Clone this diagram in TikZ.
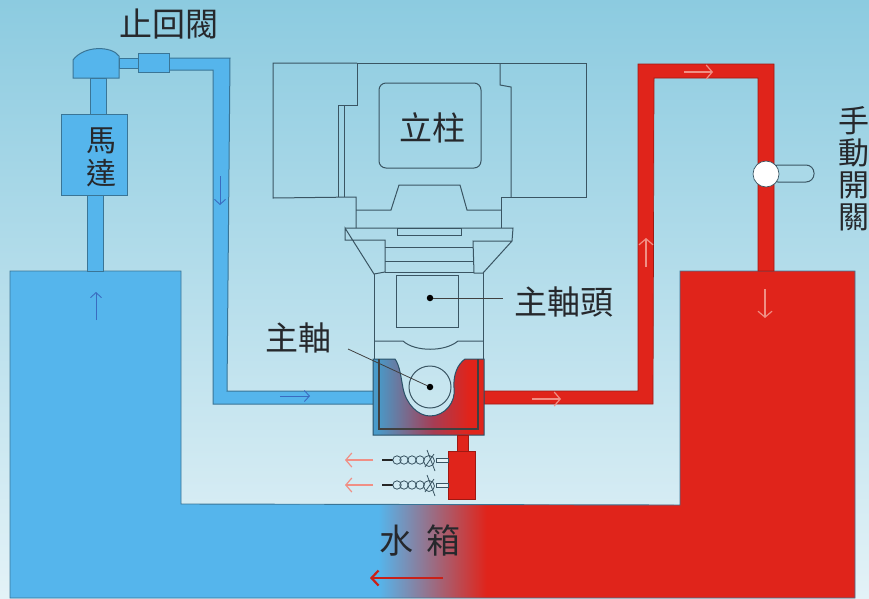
\documentclass[tikz,border=0pt]{standalone}
\usepackage{fontspec}
\setmainfont{Noto Sans CJK TC}
\usetikzlibrary{arrows.meta, positioning}
\definecolor{skytop}{HTML}{8CCBE0}
\definecolor{skylow}{HTML}{E3F2F7}
\definecolor{coldblue}{HTML}{55B5EC}
\definecolor{hotred}{HTML}{E0241B}
\definecolor{pipeline}{HTML}{3A7596}
\definecolor{machline}{HTML}{3A5563}
\definecolor{textdark}{HTML}{26282C}
\definecolor{palered}{HTML}{F08F85}
\definecolor{flowblue}{HTML}{3A6CC0}
\pgfdeclarehorizontalshading{tankfade}{100bp}{color(0bp)=(coldblue); color(46.8bp)=(coldblue); color(53.2bp)=(hotred); color(100bp)=(hotred)}
\pgfdeclarehorizontalshading{housingfade}{100bp}{color(0bp)=(coldblue); color(27bp)=(coldblue!85!black); color(52bp)=(hotred!65!flowblue); color(68bp)=(hotred); color(100bp)=(hotred)}
\tikzset{
  coldpipe/.style={fill=coldblue, draw=pipeline, line width=1pt},
  hotpipe/.style={fill=hotred, draw=hotred!70!black, line width=0.7pt},
  machine/.style={draw=machline, line width=1pt},
  paleflow/.style={draw=palered, line width=1.2pt, -{Straight Barb[length=6pt,width=14pt]}},
  blueflow/.style={draw=flowblue, line width=0.9pt, -{Straight Barb[length=5pt,width=11pt]}},
  label/.style={text=textdark, inner sep=0pt, font=\fontsize{33}{34}\selectfont},
  stacked/.style={label, align=center},
  leader/.style={draw=black!75, line width=0.8pt},
  pin/.style={circle, fill=black, inner sep=0pt, minimum size=6.5pt}
}
\begin{document}
\begin{tikzpicture}[x=1pt, y=-1pt]
  \useasboundingbox (0,0) rectangle (869,598);
  \shade[top color=skytop, bottom color=skylow] (0,0) rectangle (869,598);

  % tank
  \path[shading=tankfade, draw=pipeline, line width=0.9pt]
    (10,271) -- (181,271) -- (181,504) -- (680,505) -- (680,271) -- (855,271) -- (855,598) -- (10,598) -- cycle;

  % cold side
  \draw[coldpipe] (87,195) rectangle (103,271);
  \draw[coldpipe] (90,78) rectangle (106,114);
  \draw[coldpipe] (119,58) rectangle (138,68);
  \draw[coldpipe] (169,58) -- (230,58) -- (227,391) -- (374,391) -- (374,404) -- (213,404) -- (213,70) -- (169,70) -- cycle;
  \draw[coldpipe] (73,78) -- (73,60) .. controls (84,45) and (112,46) .. (119,56) -- (119,78) -- cycle;
  \draw[coldpipe] (138,53) rectangle (169,72);
  \node[coldpipe, minimum width=66pt, minimum height=81pt, inner sep=0pt] (motor) at (94.7,154.5) {};

  % hot side
  \draw[hotpipe] (484,391) -- (638,391) -- (638,64) -- (774,64) -- (774,271) -- (758,271) -- (758,78) -- (654,78) -- (653,404) -- (484,404) -- cycle;
  \draw[machine, fill=skytop!65!skylow, rounded corners=8pt] (770,165) -- (814,165) -- (814,182) -- (770,182) -- cycle;
  \node[circle, fill=white, draw=machline, line width=0.7pt, minimum size=26pt, inner sep=0pt] (valve) at (766,174) {};

  % column
  \draw[machine] (357,63) -- (273,63) -- (273,198) -- (356,197) -- (356,228);
  \draw[machine] (357,63) -- (357,105) -- (338,105) -- (338,197);
  \draw[machine] (344,105) -- (344,197);
  \draw[machine] (357,63) -- (586,63) -- (586,197) -- (501,197) -- (501,228);
  \draw[machine] (500,63) -- (500,85) -- (511,87) -- (511,197);
  \draw[machine, rounded corners=7pt] (379,83) rectangle (481,168);
  \draw[machine] (356,210) -- (391,210) -- (399,185) -- (460,185) -- (467,210) -- (501,210);

  % head
  \draw[machine] (345,228) -- (513,228) -- (512,241) -- (473,241) -- (474,273) -- (483,273) -- (512,241);
  \draw[machine] (345,228) -- (345,240) -- (385,240) -- (385,272) -- (374,274) -- cycle;
  \draw[machine] (397,228) rectangle (461,235);
  \draw[machine] (385,247) -- (473,247);
  \draw[machine] (385,261) -- (473,261);
  \draw[machine] (385,272) -- (474,272);
  \draw[machine] (374,274) -- (374,360);
  \draw[machine] (483,273) -- (483,360);
  \draw[machine] (374,341) -- (403,341) .. controls (415,352) and (445,352) .. (458,341) -- (483,341);
  \draw[machine] (396,275) rectangle (458,327);

  % spindle housing
  \path[shading=housingfade, draw=pipeline!70!black, line width=1pt]
    (373,359) -- (395,359) .. controls (400,366) and (401,378) .. (403,388)
    .. controls (406,404) and (418,416) .. (430,416)
    .. controls (445,416) and (456,402) .. (454,388)
    .. controls (453,374) and (458,364) .. (465,359) -- (484,359) -- (484,435) -- (373,435) -- cycle;
  \draw[black!75, line width=1.2pt] (379,359) -- (379,429) -- (478,429) -- (478,359);
  \draw[machine, fill=skytop!25!skylow, fill opacity=0.35] (430,387) circle (21);

  % pump
  \draw[hotpipe] (457,435) rectangle (468,451);
  \node[hotpipe, minimum width=27pt, minimum height=48pt, inner sep=0pt] (pump) at (461.5,475) {};
  \foreach \rowy in {460,485}{
    \draw[black!85, line width=2.2pt] (382,\rowy) -- (393,\rowy);
    \foreach \coilx in {397,404,412,420}
      \draw[machine, line width=0.8pt] (\coilx,\rowy) circle (4.2);
    \draw[machine, line width=0.8pt] (429,\rowy+1) circle (5.5);
    \draw[machine, line width=0.8pt] (427,\rowy-10) -- (435,\rowy+11);
    \draw[machine, line width=0.8pt] (425,\rowy+7) -- (434,\rowy-6);
    \draw[machine, line width=0.8pt, fill=skylow] (436,\rowy-2) rectangle (448,\rowy+2);
    \draw[paleflow] (373,\rowy) -- (345,\rowy);
  }

  % flow
  \draw[blueflow] (96,320) -- (96,292);
  \draw[blueflow] (220,176) -- (220,205);
  \draw[blueflow] (280,396) -- (310,396);
  \draw[paleflow] (532,399) -- (561,399);
  \draw[paleflow] (646,267) -- (646,238);
  \draw[paleflow] (684,72) -- (713,72);
  \draw[paleflow] (765,289) -- (765,318);
  \draw[draw=hotred!90!black, line width=2.2pt, -{Straight Barb[length=7pt,width=15pt]}] (443,578) -- (370,578);

  % labels
  \node[label] (checkvalve) at (169,24) {止回閥};
  \node[stacked, font=\fontsize{30}{33}\selectfont] (motortext) at (101,157) {馬\\達};
  \node[label] (columntext) at (432,128) {立柱};
  \node[label] (headtext) at (564,302) {主軸頭};
  \node[label] (spindletext) at (298,338) {主軸};
  \node[stacked, font=\fontsize{31}{32}\selectfont] (switchtext) at (854,169) {手\\動\\開\\關};
  \node[label, font=\fontsize{34}{35}\selectfont] (tanktext) at (420,541) {水\hspace{14pt}箱};

  \node[pin] (headpin) at (430,298) {};
  \node[pin] (spindlepin) at (430,387) {};
  \coordinate (headend) at (503,298);
  \coordinate (spindleend) at (348,349);
  \draw[leader] (headpin) -- (headend);
  \draw[leader] (spindlepin) -- (spindleend);
\end{tikzpicture}
\end{document}
